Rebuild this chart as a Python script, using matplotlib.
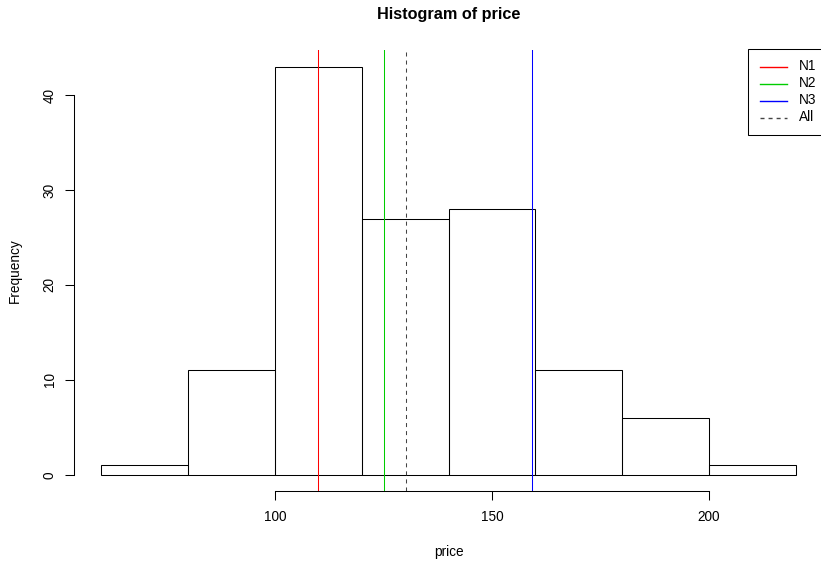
import matplotlib
matplotlib.use("Agg")
import matplotlib.pyplot as plt
from matplotlib.patches import Rectangle
from matplotlib.lines import Line2D
import numpy as np

plt.rcParams['font.family'] = ['Liberation Sans', 'DejaVu Sans']
plt.rcParams['lines.scale_dashes'] = False

# Data
breaks = [60, 80, 100, 120, 140, 160, 180, 200, 220]
counts = [1, 11, 43, 27, 28, 11, 6, 1]
group_names = ["N1", "N2", "N3", "All"]
group_means = [110.0, 125.2, 159.3, 130.3]
group_colors = ["#FF0000", "#00CD00", "#0000FF", "#444444"]
group_styles = ["-", "-", "-", (0, (2.9, 2.9))]
x_ticks = [100, 150, 200]
y_ticks = [0, 10, 20, 30, 40]

W, H = 821, 561
fig = plt.figure(figsize=(W / 100, H / 100), dpi=100)

def fx(px):
    return px / W

def fy(py):
    return 1 - py / H

# plot region in pixels
L, R, T, B = 73.6, 823.6, 50.2, 491.3
ax = fig.add_axes([L / W, 1 - B / H, (R - L) / W, (B - T) / H])

x0, x1 = breaks[0], breaks[-1]
dx = (x1 - x0) * 0.04
ax.set_xlim(x0 - dx, x1 + dx)
ymax = max(counts)
ax.set_ylim(-ymax * 0.04, ymax * 1.04)

lefts = np.array(breaks[:-1])
widths = np.diff(breaks)
ax.bar(lefts, counts, width=widths, align='edge', fill=False,
       edgecolor='black', linewidth=0.75)

for name, m, c, ls in zip(group_names, group_means, group_colors, group_styles):
    ax.axvline(m, color=c, linestyle=ls, linewidth=0.75)

for s in ['top', 'right']:
    ax.spines[s].set_visible(False)
ax.spines['left'].set_bounds(y_ticks[0], y_ticks[-1])
ax.spines['bottom'].set_bounds(x_ticks[0], x_ticks[-1])
for s in ['left', 'bottom']:
    ax.spines[s].set_linewidth(0.75)

ax.set_xticks(x_ticks)
ax.set_yticks(y_ticks)
ax.tick_params(axis='both', length=6.2, width=0.75, labelsize=9.8, pad=7)
ax.tick_params(axis='y', labelrotation=90, pad=6)
for lab in ax.get_yticklabels():
    lab.set_va('center')

fig.text(fx(448.6), fy(15), "Histogram of price", ha='center', va='center',
         fontsize=11.7, fontweight='bold')
fig.text(fx(448.6), fy(552), "price", ha='center', va='center', fontsize=9.8)
fig.text(fx(15), fy(270.7), "Frequency", ha='center', va='center',
         fontsize=9.8, rotation=90)

# legend drawn in R style (top-right of plot region)
box = Rectangle((fx(748), fy(135)), fx(823.6) - fx(748), fy(49) - fy(135),
                transform=fig.transFigure, facecolor='white', edgecolor='black',
                linewidth=0.75, zorder=5)
fig.add_artist(box)
for i, (name, c, ls) in enumerate(zip(group_names, group_colors, group_styles)):
    yy = 66.5 + 17 * i
    fig.add_artist(Line2D([fx(760), fx(787)], [fy(yy), fy(yy)],
                          transform=fig.transFigure, color=c, linestyle=ls,
                          linewidth=1.0, zorder=6))
    fig.text(fx(799), fy(yy - 0.5), name, ha='left', va='center', fontsize=9.8,
             zorder=6)

fig.savefig("out.png", dpi=100)
